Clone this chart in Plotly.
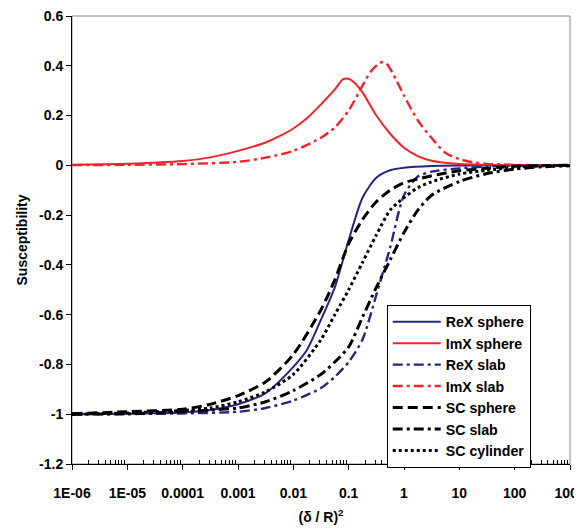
import plotly.graph_objects as go

# ---- data (x = (delta/R)^2, y = susceptibility) ----
x_rex_sphere = [1e-6, 1e-5, 1e-4, 3.16e-4, 1e-3, 3.16e-3, 1e-2, 1.78e-2, 3.16e-2, 5.62e-2, 0.1, 0.178, 0.316, 0.562, 1, 3.16, 10, 100, 1000]
y_rex_sphere = [-1.0, -0.998, -0.993, -0.983, -0.96, -0.915, -0.81, -0.74, -0.62, -0.49, -0.30, -0.13, -0.05, -0.02, -0.01, -0.003, -0.001, 0.0, 0.0]

x_imx_sphere = [1e-6, 1e-5, 1e-4, 3.16e-4, 1e-3, 3.16e-3, 5.62e-3, 1e-2, 1.78e-2, 3.16e-2, 5.62e-2, 0.0794, 0.1, 0.126, 0.178, 0.316, 0.562, 1, 1.78, 3.16, 10, 31.6, 100, 1000]
y_imx_sphere = [0.002, 0.006, 0.017, 0.032, 0.058, 0.092, 0.117, 0.148, 0.19, 0.245, 0.305, 0.346, 0.348, 0.333, 0.293, 0.2, 0.127, 0.071, 0.037, 0.018, 0.005, 0.002, 0.0, 0.0]

x_rex_slab = [1e-6, 1e-4, 1e-3, 3.16e-3, 1e-2, 3.16e-2, 5.62e-2, 0.1, 0.178, 0.316, 0.562, 1, 1.78, 3.16, 10, 31.6, 100, 1000]
y_rex_slab = [-1.0, -0.997, -0.99, -0.975, -0.945, -0.895, -0.85, -0.79, -0.70, -0.52, -0.33, -0.12, -0.045, -0.025, -0.012, -0.005, -0.002, 0.0]

x_imx_slab = [1e-6, 1e-5, 1e-4, 1e-3, 3.16e-3, 1e-2, 3.16e-2, 5.62e-2, 0.1, 0.178, 0.251, 0.355, 0.417, 0.501, 0.708, 1, 1.78, 3.16, 5.62, 10, 17.8, 31.6, 100, 1000]
y_imx_slab = [0.001, 0.002, 0.005, 0.014, 0.031, 0.058, 0.111, 0.152, 0.22, 0.32, 0.377, 0.41, 0.415, 0.405, 0.347, 0.28, 0.18, 0.11, 0.05, 0.025, 0.012, 0.006, 0.002, 0.0]

x_sc = [1e-6, 1e-5, 1e-4, 3.16e-4, 1e-3, 3.16e-3, 1e-2, 3.16e-2, 5.62e-2, 0.1, 0.178, 0.316, 0.562, 1, 1.78, 3.16, 10, 31.6, 100, 316, 1000]
y_sc_sphere = [-0.998, -0.99, -0.98, -0.96, -0.925, -0.87, -0.76, -0.58, -0.46, -0.315, -0.218, -0.146, -0.10, -0.07, -0.055, -0.042, -0.022, -0.012, -0.004, -0.001, 0.0]
y_sc_slab = [-1.0, -0.998, -0.99, -0.983, -0.975, -0.95, -0.905, -0.84, -0.79, -0.73, -0.61, -0.49, -0.38, -0.27, -0.18, -0.12, -0.065, -0.033, -0.015, -0.006, -0.002]
y_sc_cylinder = [-1.0, -0.995, -0.985, -0.975, -0.95, -0.91, -0.84, -0.70, -0.60, -0.50, -0.39, -0.28, -0.18, -0.13, -0.09, -0.066, -0.035, -0.02, -0.008, -0.002, 0.0]

x_tick_vals = [1e-6, 1e-5, 1e-4, 1e-3, 1e-2, 1e-1, 1, 10, 100, 1000]
x_tick_text = ["1E-06", "1E-05", "0.0001", "0.001", "0.01", "0.1", "1", "10", "100", "1000"]
y_tick_vals = [-1.2, -1.0, -0.8, -0.6, -0.4, -0.2, 0, 0.2, 0.4, 0.6]
y_tick_text = ["-1.2", "-1", "-0.8", "-0.6", "-0.4", "-0.2", "0", "0.2", "0.4", "0.6"]

NAVY = "#25277C"
RED = "#F0232A"
BLACK = "#000000"
SLAB_DASH = "10px,4px,3px,4px"
FAMILY = "Liberation Sans, Arial, sans-serif"

minor_vals = [m * 10.0 ** e for e in range(-6, 3) for m in range(2, 10)]

fig = go.Figure()

def add(x, y, name, color, dash, width):
    fig.add_trace(go.Scatter(x=x, y=y, name="<b>%s</b>" % name, mode="lines",
                             line=dict(color=color, dash=dash, width=width, shape="spline", smoothing=0.7)))

add(x_rex_sphere, y_rex_sphere, "ReX sphere", NAVY, "solid", 2)
add(x_imx_sphere, y_imx_sphere, "ImX sphere", RED, "solid", 2)
add(x_rex_slab, y_rex_slab, "ReX slab", NAVY, SLAB_DASH, 2.4)
add(x_imx_slab, y_imx_slab, "ImX slab", RED, SLAB_DASH, 2.4)
add(x_sc, y_sc_sphere, "SC sphere", BLACK, "10px,5px", 3)
add(x_sc, y_sc_slab, "SC slab", BLACK, SLAB_DASH, 3)
add(x_sc, y_sc_cylinder, "SC cylinder", BLACK, "3px,3px", 3)

fig.update_layout(
    width=582, height=532,
    margin=dict(l=64, r=20, t=8, b=76),
    paper_bgcolor="white", plot_bgcolor="white",
    font=dict(family=FAMILY, size=14, color="black"),
    showlegend=True,
    legend=dict(x=0.632, y=0.355, xanchor="left", yanchor="top",
                bordercolor="black", borderwidth=1, bgcolor="white",
                font=dict(family=FAMILY, size=14.2, color="black"),
                itemwidth=48, entrywidth=86, tracegroupgap=0),
    xaxis=dict(type="log", range=[-6, 3], tickmode="array", tickvals=x_tick_vals,
               ticktext=["<b>%s</b>" % t for t in x_tick_text],
               automargin=False, ticklabeloverflow="allow",
               showline=True, linecolor="black", linewidth=1,
               ticks="outside", ticklen=5, tickcolor="black", ticklabelstandoff=11,
               tickfont=dict(family=FAMILY, size=14, color="black"),
               minor=dict(tickvals=minor_vals, ticks="inside", ticklen=4, tickcolor="black", showgrid=False),
               showgrid=False, zeroline=False,
               title=dict(text="<b>(δ / R)<sup>2</sup></b>", standoff=12,
                          font=dict(family=FAMILY, size=14, color="black"))),
    yaxis=dict(range=[-1.2, 0.6], tickmode="array", tickvals=y_tick_vals,
               ticktext=["<b>%s</b>" % t for t in y_tick_text],
               automargin=False, ticklabeloverflow="allow",
               showline=True, linecolor="black", linewidth=1,
               ticks="outside", ticklen=5, tickcolor="black",
               tickfont=dict(family=FAMILY, size=14, color="black"),
               showgrid=False, zeroline=False,
               title=dict(text="<b>Susceptibility</b>", standoff=8,
                          font=dict(family=FAMILY, size=14, color="black"))),
    shapes=[dict(type="rect", xref="paper", yref="paper", x0=0, x1=1, y0=0, y1=1,
                 line=dict(color="#888888", width=1), layer="below")],
)

fig.write_html("out.html")
